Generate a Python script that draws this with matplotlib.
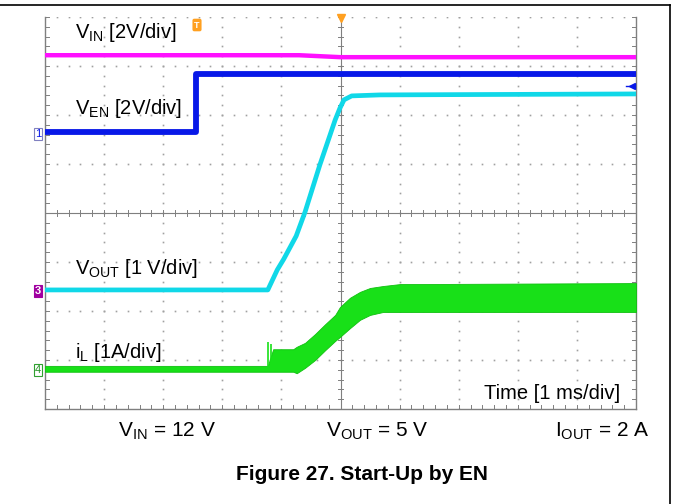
import numpy as np
import matplotlib
matplotlib.use('Agg')
import matplotlib.pyplot as plt
from matplotlib.lines import Line2D

plt.rcParams['font.family'] = ['Liberation Sans', 'DejaVu Sans']
plt.rcParams['mathtext.fontset'] = 'custom'
plt.rcParams['mathtext.rm'] = 'Liberation Sans'
plt.rcParams['mathtext.it'] = 'Liberation Sans'
plt.rcParams['mathtext.bf'] = 'Liberation Sans:bold'

# scope traces, in divisions (x: 0..10 time div, y: 0..8 vertical div)
vin_t = [0, 4.3, 5.0, 10]
vin_v = [7.22, 7.22, 7.18, 7.18]

ven_t = [0, 2.56, 2.56, 10]
ven_v = [5.65, 5.65, 6.84, 6.84]

vout_t = [0, 3.77, 3.93, 4.04, 4.25, 4.40, 4.65, 4.91, 4.99, 5.06, 5.19, 5.67, 10]
vout_v = [2.43, 2.43, 2.84, 3.06, 3.53, 4.02, 4.98, 5.90, 6.14, 6.31, 6.39, 6.41, 6.43]

il_t = [0, 3.77, 3.86, 4.20, 4.26, 4.40, 4.57, 4.74, 4.91, 4.99, 5.16, 5.33, 5.50, 5.72, 6.01, 6.35, 10]
il_top = [0.88, 0.88, 1.22, 1.22, 1.27, 1.35, 1.53, 1.73, 1.92, 2.08, 2.27, 2.39, 2.47, 2.51, 2.55, 2.55, 2.57]
il_bot = [0.76, 0.76, 0.76, 0.76, 0.73, 0.84, 1.00, 1.20, 1.39, 1.47, 1.65, 1.82, 1.92, 1.98, 1.98, 1.98, 1.98]
spike_t = [3.77, 3.82]
spike_top = [1.37, 1.33]

W, H = 673, 504
fig = plt.figure(figsize=(W / 100, H / 100), dpi=100)

def fx(x):
    return x / W

def fy(y):
    return 1 - y / H

ax = fig.add_axes([fx(45), fy(409), fx(636) - fx(45), fy(17) - fy(409)])
ax.set_xlim(0, 10)
ax.set_ylim(0, 8)
ax.set_xticks([])
ax.set_yticks([])
grey = '#7f7f7f'
for s in ['left', 'right', 'bottom']:
    ax.spines[s].set_color(grey)
    ax.spines[s].set_linewidth(1.0)
ax.spines['top'].set_visible(False)

# dotted grid: dots at minor positions on each division line
minor_x = np.arange(0, 10.01, 0.2)
minor_y = np.arange(0, 8.01, 0.2)
for gx in range(1, 10):
    if gx != 5:
        ax.plot(np.full_like(minor_y, gx), minor_y, ls='none', marker='s', ms=1.2, color='#a0a0a0', mec='none')
for gy in range(1, 9):
    if gy != 4:
        ax.plot(minor_x, np.full_like(minor_x, gy), ls='none', marker='s', ms=1.2, color='#a0a0a0', mec='none')

# centre cross with tick marks
ax.axvline(5, color=grey, lw=0.8)
ax.axhline(4, color=grey, lw=0.8)
for mx in minor_x:
    ax.plot([mx, mx], [4 - 0.07, 4 + 0.07], color=grey, lw=0.7)
    ax.plot([mx, mx], [0, 0.09], color=grey, lw=0.7)
for my in minor_y:
    ax.plot([5 - 0.05, 5 + 0.05], [my, my], color=grey, lw=0.7)
    ax.plot([0, 0.06], [my, my], color=grey, lw=0.7)
    ax.plot([10 - 0.06, 10], [my, my], color=grey, lw=0.7)

# traces
ax.fill_between(il_t, il_bot, il_top, color='#18e018', lw=0.6, ec='#10c010', zorder=3)
ax.vlines(spike_t, 0.8, spike_top, color='#18e018', lw=1.2, zorder=3)
ax.plot(vin_t, vin_v, color='#ff10ff', lw=3.2, zorder=4)
ax.plot(ven_t, ven_v, color='#0818e8', lw=4.2, zorder=4)
ax.plot(vout_t, vout_v, color='#10d8e8', lw=3.4, zorder=5)

# markers on scope screen
ax.plot([5], [7.98], marker='v', ms=6, color='#ffa020', clip_on=False, zorder=6)
ax.plot([9.93], [6.59], marker='<', ms=4, color='#0818e8', zorder=6)
ax.plot([9.83, 9.93], [6.59, 6.59], color='#0818e8', lw=1, zorder=6)
fig.text(fx(197), fy(25), 'T', color='white', fontsize=6.5, fontweight='bold', ha='center', va='center',
         bbox=dict(boxstyle='round,pad=0.2', fc='#ffa020', ec='none'))

fig.text(fx(38), fy(134), '1', color='#0818e8', fontsize=8, ha='center', va='center',
         bbox=dict(boxstyle='square,pad=0.12', fc='white', ec='#8080c0', lw=0.8))
fig.text(fx(38), fy(291), '3', color='white', fontsize=8, fontweight='bold', ha='center', va='center',
         bbox=dict(boxstyle='square,pad=0.12', fc='#a000a0', ec='#a000a0', lw=0.8))
fig.text(fx(38), fy(370), '4', color='#209020', fontsize=8, ha='center', va='center',
         bbox=dict(boxstyle='square,pad=0.12', fc='white', ec='#30a030', lw=0.8))

# trace labels
lab = dict(fontsize=14.5, color='black', va='baseline', ha='left')
fig.text(fx(75), fy(38), r'V$_{\mathrm{IN}}$ [2V/div]', **lab)
fig.text(fx(75), fy(114), r'V$_{\mathrm{EN}}$ [2V/div]', **lab)
fig.text(fx(75), fy(274), r'V$_{\mathrm{OUT}}$ [1 V/div]', **lab)
fig.text(fx(75), fy(358), r'i$_{\mathrm{L}}$ [1A/div]', **lab)
fig.text(fx(620), fy(399), 'Time [1 ms/div]', fontsize=14.5, ha='right', va='baseline')

# conditions and caption
fig.text(fx(118), fy(437), r'V$_{\mathrm{IN}}$ = 12 V', fontsize=15, ha='left', va='baseline')
fig.text(fx(326), fy(437), r'V$_{\mathrm{OUT}}$ = 5 V', fontsize=15, ha='left', va='baseline')
fig.text(fx(649), fy(437), r'I$_{\mathrm{OUT}}$ = 2 A', fontsize=15, ha='right', va='baseline')
fig.text(fx(362), fy(480), 'Figure 27. Start-Up by EN', fontsize=15, fontweight='bold', ha='center', va='baseline')

# page frame
fig.add_artist(Line2D([0, fx(670)], [fy(5), fy(5)], color='black', lw=1.2))
fig.add_artist(Line2D([fx(670), fx(670)], [fy(5), 0], color='black', lw=1.2))

fig.savefig('out.png', dpi=100)
